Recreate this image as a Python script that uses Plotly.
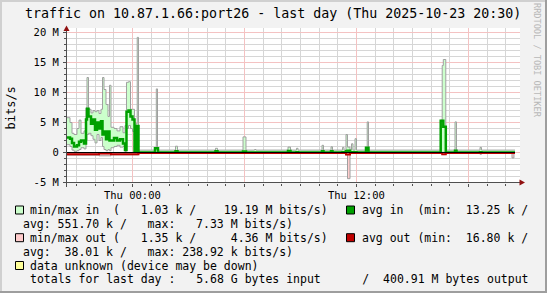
import math
import plotly.graph_objects as go

# ---------------- data (time = hours relative to Thu 2025-10-23 00:00, segment starts) ----------------
in_t = [-3.500, -3.339, -3.232, -3.125, -2.964, -2.857, -2.750, -2.589, -2.482, -2.429,
        -2.348, -2.214, -2.107, -2.000, -1.893, -1.786, -1.679, -1.598, -1.518, -1.411,
        -1.304, -1.223, -1.143, -0.982, -0.821, -0.661, -0.500, -0.393, -0.313, -0.205,
        -0.098, 0.009, 0.116, 0.196, 0.261, 0.330, 1.214, 1.284, 1.348, 1.375,
        2.313, 2.420, 4.455, 4.563, 5.929, 6.089, 6.545, 6.625, 8.339, 8.473,
        8.795, 8.875, 10.161, 10.241, 10.643, 10.723, 11.259, 11.339, 11.446, 11.527,
        11.661, 11.741, 11.821, 11.929, 12.009, 12.518, 12.582, 12.652, 16.520, 16.600,
        16.659, 16.793, 17.286, 17.366, 18.625, 18.705]
in_max = [5.8, 5.0, 3.2, 3.0, 4.0, 5.4, 3.2, 3.6, 7.4, 12.5,
          7.2, 6.6, 7.0, 6.8, 7.0, 6.5, 7.2, 12.5, 10.5, 8.0,
          6.0, 11.2, 4.2, 4.0, 3.6, 4.3, 3.3, 4.5, 11.7, 11.8,
          7.2, 7.2, 4.0, 4.8, 19.19, 0.4, 0.8, 10.6, 0.8, 0.4,
          1.05, 0.4, 0.7, 0.4, 2.6, 0.4, 0.5, 0.4, 0.9, 0.4,
          0.7, 0.4, 1.2, 0.4, 0.95, 0.4, 0.85, 0.4, 3.0, 0.9,
          0.4, 1.45, 0.4, 2.3, 0.4, 0.8, 5.1, 0.4, 5.4, 14.5,
          15.5, 0.4, 5.1, 0.4, 0.85, 0.4]
in_min = [1.3, 1.0, 0.4, 0.2, 0.3, 0.5, 0.8, 0.6, 2.0, 3.0,
          3.2, 2.8, 2.2, 1.6, 3.0, 2.0, 2.5, 1.0, 0.5, 0.3,
          0.5, 0.3, 0.8, 1.0, 1.2, 0.9, 1.0, 0.2, 4.0, 4.5,
          4.0, 3.5, 0.1, 0.2, 0.2, 0.01, 0.05, 0.05, 0.05, 0.01,
          0.05, 0.01, 0.05, 0.01, 0.05, 0.01, 0.01, 0.01, 0.05, 0.01,
          0.01, 0.01, 0.05, 0.01, 0.05, 0.01, 0.01, 0.01, 0.05, 0.05,
          0.01, 0.01, 0.01, 0.01, 0.01, 0.05, 0.05, 0.01, 0.05, 0.05,
          0.05, 0.01, 0.01, 0.01, 0.01, 0.01]
in_avg = [2.5, 2.3, 1.6, 1.0, 1.2, 1.8, 2.0, 1.5, 5.5, 7.3,
          6.0, 4.8, 5.5, 3.8, 5.0, 4.0, 5.2, 3.0, 3.5, 2.2,
          3.5, 2.0, 2.0, 2.4, 2.0, 2.2, 1.5, 0.4, 6.8, 7.0,
          6.0, 5.5, 0.3, 4.4, 4.4, 0.02, 0.7, 0.7, 0.7, 0.02,
          0.2, 0.02, 0.2, 0.02, 0.15, 0.02, 0.02, 0.02, 0.25, 0.02,
          0.05, 0.02, 0.2, 0.02, 0.2, 0.02, 0.05, 0.02, 0.2, 0.3,
          0.02, 0.05, 0.02, 0.05, 0.02, 0.8, 0.8, 0.02, 5.3, 5.3,
          4.3, 0.02, 0.3, 0.02, 0.05, 0.02]

out_t = [-3.500, -1.786, -1.143, 0.330, 11.446, 11.527, 11.661, 16.600, 16.793,
         18.625, 18.705, 20.339, 20.446]
out_max = [0.45, 0.55, 0.4, 0.12, 0.4, 4.36, 0.12, 0.35, 0.12, 0.3, 0.12, 0.9, 0.12]
out_min = [0.1, 0.05, 0.1, 0.01, 0.05, 0.05, 0.01, 0.05, 0.01, 0.01, 0.01, 0.01, 0.01]
out_avg = [0.3, 0.15, 0.3, 0.1, 0.35, 0.35, 0.1, 0.3, 0.1, 0.1, 0.1, 0.1, 0.1]

t_end = 20.5

y_tickvals = [-5, 0, 5, 10, 15, 20]
y_ticktext = ["-5 M", "0", "5 M", "10 M", "15 M", "20 M"]
x_tickvals = [0, 6, 12, 18]
x_ticktext = ["Thu 00:00", "", "Thu 12:00", ""]
grid_minor_y = [v for v in range(-5, 21) if v % 5 != 0]
grid_minor_x = [h for h in range(-3, 21) if h % 6 != 0]

title_text = "traffic on 10.87.1.66:port26 - last day (Thu 2025-10-23 20:30)"
legend_lines = [
    "min/max in  (   1.03 k /    19.19 M bits/s)",
    "avg in  (min:  13.25 k /",
    "avg: 551.70 k /   max:   7.33 M bits/s)",
    "min/max out (   1.35 k /     4.36 M bits/s)",
    "avg out (min:  16.80 k /",
    "avg:  38.01 k /   max: 238.92 k bits/s)",
    "data unknown (device may be down)",
    "totals for last day :   5.68 G bytes input      /  400.91 M bytes output",
]

# ---------------- styling ----------------
MONO = "DejaVu Sans Mono"
LGREEN = "#ccffcc"
GREEN = "#00a000"
PINK = "#ffcccc"
DRED = "#c00000"
YEL = "#ffff99"
GRAY = "#a0a0a0"
BG = "#f2f2f2"
MINOR = "#d6d6d6"
MAJOR = "#f4c2c2"

W, H = 547, 293
PL, PR, PT, PB = 67, 520, 28, 183   # plot area in px

px_per_h = 448 / 24.0
px_per_M = 150.0 / 25.0
x_range = [-3.5, -3.5 + (PR - PL) / px_per_h]
ybot = -5 - 0.5 / px_per_M          # half-pixel offset so 1px rules are crisp
y_range = [ybot, ybot + (PB - PT) / px_per_M]


def X(px):
    return (px - PL) / (PR - PL)


def Y(py):
    return (PB - py) / (PB - PT)


def snap_h(h):
    # move a vertical rule onto a pixel centre
    p = PL + (h - x_range[0]) * px_per_h
    return x_range[0] + (math.floor(p) + 0.5 - PL) / px_per_h


def step(t, v):
    return list(t) + [t_end], list(v) + [v[-1]]


fig = go.Figure()

# grid drawn first so it stays under the data
gx, gy = [], []
for v in grid_minor_y:
    gx += [x_range[0], x_range[1], None]
    gy += [v, v, None]
for h in grid_minor_x:
    hs = snap_h(h)
    gx += [hs, hs, None]
    gy += [y_range[0], y_range[1], None]
fig.add_trace(go.Scatter(x=gx, y=gy, mode="lines", line=dict(color=MINOR, width=1),
                         hoverinfo="skip", connectgaps=False))
mx, my = [], []
for v in y_tickvals[1:]:
    mx += [x_range[0], x_range[1], None]
    my += [v, v, None]
for h in x_tickvals:
    hs = snap_h(h)
    mx += [hs, hs, None]
    my += [y_range[0], y_range[1], None]
fig.add_trace(go.Scatter(x=mx, y=my, mode="lines", line=dict(color=MAJOR, width=1),
                         hoverinfo="skip", connectgaps=False))

xs, y = step(in_t, in_min)
fig.add_trace(go.Scatter(x=xs, y=y, mode="lines", line=dict(color=GRAY, width=1, shape="hv"), hoverinfo="skip"))
xs, y = step(in_t, in_max)
fig.add_trace(go.Scatter(x=xs, y=y, mode="lines", fill="tonexty", fillcolor=LGREEN,
                         line=dict(color=GRAY, width=1, shape="hv"), hoverinfo="skip"))
xs, y = step(out_t, [-v for v in out_min])
fig.add_trace(go.Scatter(x=xs, y=y, mode="lines", line=dict(color=GRAY, width=1, shape="hv"), hoverinfo="skip"))
xs, y = step(out_t, [-v for v in out_max])
fig.add_trace(go.Scatter(x=xs, y=y, mode="lines", fill="tonexty", fillcolor=PINK,
                         line=dict(color=GRAY, width=1, shape="hv"), hoverinfo="skip"))
xs, y = step(in_t, in_avg)
fig.add_trace(go.Scatter(x=xs, y=y, mode="lines", line=dict(color=GREEN, width=2.5, shape="hv"), hoverinfo="skip"))
xs, y = step(out_t, [-v for v in out_avg])
fig.add_trace(go.Scatter(x=xs, y=y, mode="lines", line=dict(color=DRED, width=2, shape="hv"), hoverinfo="skip"))

fig.update_xaxes(range=x_range, tickmode="array", tickvals=x_tickvals, ticktext=x_ticktext,
                 showgrid=False, zeroline=False, showline=False, ticks="outside", ticklen=3,
                 tickcolor="#505050", tickfont=dict(family=MONO, size=10.5, color="#000"),
                 ticklabelstandoff=-1,
                 minor=dict(tickmode="array", tickvals=grid_minor_x, ticks="outside", ticklen=2,
                            tickcolor="#505050", showgrid=False),
                 fixedrange=True)
fig.update_yaxes(range=y_range, tickmode="array", tickvals=y_tickvals, ticktext=y_ticktext,
                 showgrid=False, zeroline=False, showline=False, ticks="outside", ticklen=3,
                 tickcolor="#505050", tickfont=dict(family=MONO, size=10.5, color="#000"),
                 ticklabelstandoff=2,
                 minor=dict(tickmode="array", tickvals=grid_minor_y, ticks="outside", ticklen=2,
                            tickcolor="#505050", showgrid=False),
                 fixedrange=True)

shapes = []
# zero rule
shapes.append(dict(type="line", xref="x", yref="y", x0=-3.5, x1=t_end, y0=0, y1=0,
                   line=dict(color="#000000", width=1), layer="above"))
# axis lines
shapes.append(dict(type="line", xref="paper", yref="paper", x0=X(66.5), x1=X(66.5), y0=Y(187), y1=Y(29),
                   line=dict(color="#505050", width=1), layer="above"))
shapes.append(dict(type="line", xref="paper", yref="paper", x0=X(63), x1=X(521), y0=Y(182.5), y1=Y(182.5),
                   line=dict(color="#505050", width=1), layer="above"))
# arrows
shapes.append(dict(type="path", xref="paper", yref="paper",
                   path=f"M {X(63.5)} {Y(31)} L {X(69.5)} {Y(31)} L {X(66.5)} {Y(25.5)} Z",
                   fillcolor="#901010", line=dict(width=0), layer="above"))
shapes.append(dict(type="path", xref="paper", yref="paper",
                   path=f"M {X(519.5)} {Y(179.5)} L {X(519.5)} {Y(185.5)} L {X(525)} {Y(182.5)} Z",
                   fillcolor="#901010", line=dict(width=0), layer="above"))
# frame
shapes.append(dict(type="line", xref="paper", yref="paper", x0=X(1), x1=X(1), y0=Y(0), y1=Y(293),
                   line=dict(color="#d0d0d0", width=2), layer="above"))
shapes.append(dict(type="line", xref="paper", yref="paper", x0=X(0), x1=X(547), y0=Y(1), y1=Y(1),
                   line=dict(color="#d0d0d0", width=2), layer="above"))
shapes.append(dict(type="line", xref="paper", yref="paper", x0=X(546), x1=X(546), y0=Y(0), y1=Y(293),
                   line=dict(color="#9e9e9e", width=2), layer="above"))
shapes.append(dict(type="line", xref="paper", yref="paper", x0=X(0), x1=X(547), y0=Y(292), y1=Y(292),
                   line=dict(color="#9e9e9e", width=2), layer="above"))

# legend swatches
line_y = [210, 223.9, 237.7, 251.6, 265.5, 279.3]
for (x0, yc, col) in [(15, line_y[0], LGREEN), (346, line_y[0], GREEN),
                      (15, line_y[2], PINK), (346, line_y[2], DRED), (15, line_y[4], YEL)]:
    shapes.append(dict(type="rect", xref="paper", yref="paper", x0=X(x0 + 0.5), x1=X(x0 + 8.5),
                       y0=Y(yc + 4), y1=Y(yc - 4), fillcolor=col,
                       line=dict(color="#000000", width=1), layer="above"))


def ann(text, px, py, size, xanchor="left", color="#000000", angle=0):
    return dict(text=text.replace(" ", "\u00a0"), x=X(px), y=Y(py), xref="paper", yref="paper",
                xanchor=xanchor, yanchor="middle", showarrow=False, borderpad=0, textangle=angle,
                font=dict(family=MONO, size=size, color=color))


annotations = [
    ann(title_text, 273, 13.5, 13.3, xanchor="center"),
    ann("bits/s", 10.5, 108, 12, xanchor="center", angle=-90),
    ann("RRDTOOL / TOBI OETIKER", 537, 60, 8.6, xanchor="center", color="#b8b8b8", angle=90),
    ann(legend_lines[0], 29, line_y[0], 11.5),
    ann(legend_lines[1], 361, line_y[0], 11.5),
    ann(legend_lines[2], 22, line_y[1], 11.5),
    ann(legend_lines[3], 29, line_y[2], 11.5),
    ann(legend_lines[4], 361, line_y[2], 11.5),
    ann(legend_lines[5], 22, line_y[3], 11.5),
    ann(legend_lines[6], 29, line_y[4], 11.5),
    ann(legend_lines[7], 29, line_y[5], 11.5),
]

fig.update_layout(width=W, height=H, margin=dict(l=PL, r=W - PR, t=PT, b=H - PB, pad=0),
                  paper_bgcolor=BG, plot_bgcolor="#ffffff", showlegend=False,
                  shapes=shapes, annotations=annotations,
                  font=dict(family=MONO, size=10.5, color="#000"))

fig.write_html("out.html", config={"displayModeBar": False})
